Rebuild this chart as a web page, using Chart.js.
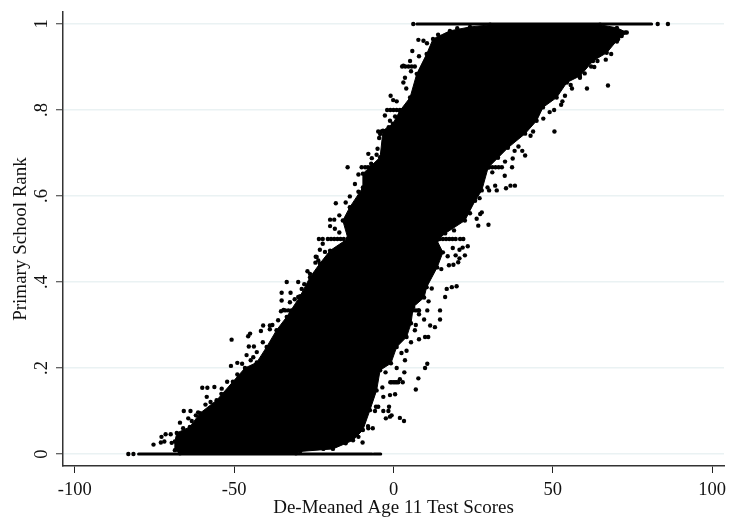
<!DOCTYPE html>
<html>
<head>
<meta charset="utf-8">
<script src="https://cdn.jsdelivr.net/npm/chart.js@4"></script>
<style>
  body { margin: 0; background: #fff; }
  canvas { display: block; }
</style>
</head>
<body>
<canvas id="chart" width="730" height="519"></canvas>
<script>
const xTicks = [-100, -50, 0, 50, 100];
const yTicks = [0, 0.2, 0.4, 0.6, 0.8, 1];
const yTickLabels = ['0', '.2', '.4', '.6', '.8', '1'];

// outline of the solid black cloud, left edge going up then right edge coming down
const cloudX = [-67.0, -68.6, -68.6, -68.0, -63.9, -60.7, -55.5, -50.4, -46.6, -42.9, -39.8, -36.7, -33.5, -29.3, -26.2, -23.1, -19.9, -14.3, -15.9, -13.7, -9.6, -9.6, -4.2, -3.3, -0.2, 2.0, 5.2, 7.3, 10.4, 12.4, 17.7, 24.0, 30.3, 64.8, 70.1, 73.2, 70.5, 66.9, 62.6, 58.5, 54.4, 51.2, 46.9, 44.9, 41.3, 35.9, 32.8, 29.7, 27.7, 25.6, 22.4, 16.2, 13.6, 15.5, 13.7, 10.4, 9.6, 6.2, 5.5, 4.1, 1.0, -0.8, -4.2, -5.3, -7.4, -9.6, -12.7, -19.0, -29.3, -30.6];
const cloudY = [0.002, 0.009, 0.029, 0.049, 0.063, 0.095, 0.125, 0.168, 0.200, 0.213, 0.249, 0.288, 0.319, 0.367, 0.411, 0.443, 0.473, 0.501, 0.543, 0.574, 0.620, 0.652, 0.690, 0.752, 0.768, 0.798, 0.829, 0.884, 0.930, 0.965, 0.984, 0.993, 0.998, 0.998, 0.991, 0.980, 0.965, 0.933, 0.914, 0.879, 0.864, 0.829, 0.806, 0.775, 0.745, 0.712, 0.689, 0.666, 0.613, 0.589, 0.543, 0.513, 0.497, 0.469, 0.434, 0.388, 0.364, 0.342, 0.304, 0.272, 0.249, 0.211, 0.195, 0.148, 0.102, 0.056, 0.032, 0.012, 0.006, 0.002];

// stray pupils outside the cloud
const strayX = [-75.3, -72.8, -73.0, -71.5, -69.9, -71.9, -69.6, -67.0, -65.8, -63.7, -64.4, -63.3, -61.3, -60.0, -58.4, -56.2, -58.6, -57.4, -53.9, -52.2, -51.0, -49.0, -50.8, -45.6, -45.0, -45.4, -43.8, -46.1, -44.8, -42.9, -41.6, -40.9, -38.8, -38.8, -36.2, -35.1, -35.1, -35.3, -32.3, -33.5, -29.9, -32.5, -29.9, -28.8, -26.2, -24.1, -21.0,
  -14.4, -18.1, -19.9, -18.6, -19.9, -18.4, -23.4, -22.2, -22.2, -23.1, -24.4, -23.6, -7.9, -5.3, -12.1, -13.7, -10.0, -8.9, -4.2, -6.8, -4.8, -2.7, -1.1, -0.9, -0.1, 3.1, 3.6, 3.1, 5.9, 5.2, 7.8, 9.4,
  29.8, 26.6, 21.9, 20.9, 23.3, 21.7, 20.7, 18.6, 22.4, 20.7, 19.5, 20.3, 18.8, 17.4, 19.8, 18.3, 16.7, 16.2, 14.6, 10.6, 7.8, 14.6, 9.6, 11.5, 13.0, 6.7, 10.9, 9.9, 8.0, 3.6, 10.6, 9.9, 4.1, 3.4, 7.8, 2.9, 2.0, 0.5, -0.6, 7.0, 0.5, -1.1, -3.2, -1.4, -1.6, -0.6, -1.1, -2.4, 2.0, 3.3, -6.5, -7.9, -9.7, -4.8, -5.8, -3.2,
  67.3, 60.7, 68.3, 66.6, 64.0, 62.0, 58.5, 55.6, 53.8, 52.6, 50.4, 50.5, 43.8, 41.3, 40.4, 39.2, 37.4, 37.2, 34.9, 38.1, 36.7, 35.3, 32.4, 31.9, 30.0, 27.2, 27.7, 26.1, 72.7, 71.6, 70.1];
const strayY = [0.022, 0.040, 0.027, 0.046, 0.046, 0.029, 0.026, 0.073, 0.100, 0.100, 0.083, 0.077, 0.097, 0.154, 0.154, 0.156, 0.133, 0.121, 0.152, 0.168, 0.205, 0.212, 0.266, 0.274, 0.280, 0.250, 0.250, 0.230, 0.218, 0.237, 0.286, 0.299, 0.299, 0.290, 0.311, 0.375, 0.357, 0.332, 0.375, 0.400, 0.400, 0.353, 0.365, 0.384, 0.419, 0.458, 0.454,
  0.667, 0.583, 0.545, 0.545, 0.530, 0.524, 0.500, 0.500, 0.489, 0.475, 0.459, 0.450, 0.698, 0.696, 0.628, 0.599, 0.667, 0.667, 0.744, 0.688, 0.750, 0.787, 0.775, 0.833, 0.823, 0.903, 0.875, 0.864, 0.937, 0.914, 0.963, 0.961,
  0.533, 0.531, 0.500, 0.500, 0.483, 0.480, 0.475, 0.479, 0.462, 0.455, 0.462, 0.446, 0.440, 0.439, 0.390, 0.388, 0.384, 0.365, 0.334, 0.334, 0.334, 0.313, 0.313, 0.299, 0.295, 0.288, 0.272, 0.272, 0.267, 0.218, 0.210, 0.200, 0.240, 0.190, 0.176, 0.167, 0.174, 0.167, 0.167, 0.150, 0.139, 0.137, 0.133, 0.110, 0.100, 0.090, 0.087, 0.083, 0.084, 0.077, 0.060, 0.060, 0.027, 0.110, 0.100, 0.100,
  0.857, 0.850, 0.930, 0.917, 0.914, 0.901, 0.875, 0.858, 0.833, 0.812, 0.800, 0.750, 0.750, 0.694, 0.705, 0.715, 0.687, 0.667, 0.647, 0.624, 0.624, 0.618, 0.613, 0.624, 0.613, 0.558, 0.562, 0.547, 0.980, 0.972, 0.959];

// pupils packed against the edge of the cloud, these make it look rough
const edgeX = [-66, -62, -59, -54, -49, -47.5, -44, -41, -38, -34.5, -31, -28, -27, -24.5, -21.5, -17, -17, -15, -11, -11, -7, -5, -4.5, -1.5, 0.5, 1, 4, 5.5, 8, 10.5, 14, 20,
  63, 60, 56, 53, 49, 47, 43, 38, 35, 31, 29.5, 27, 24, 19, 17, 15, 12, 11, 8, 7, 5.5, 2.5, 1, -2.5, -3.5, -5.5, -8, -11, -15, -22];
const edgeY = [0.06, 0.09, 0.115, 0.14, 0.185, 0.21, 0.225, 0.26, 0.3, 0.335, 0.36, 0.395, 0.425, 0.445, 0.47, 0.515, 0.555, 0.585, 0.61, 0.65, 0.675, 0.71, 0.735, 0.76, 0.785, 0.82, 0.85, 0.89, 0.925, 0.955, 0.975, 0.99,
  0.9, 0.885, 0.85, 0.82, 0.795, 0.78, 0.74, 0.705, 0.68, 0.655, 0.62, 0.595, 0.56, 0.52, 0.46, 0.43, 0.385, 0.355, 0.325, 0.3, 0.26, 0.235, 0.2, 0.19, 0.155, 0.11, 0.065, 0.04, 0.025, 0.012];

// ties at the common rank values make short horizontal streaks
const streakX = [-20.6, -19.6, -18.6, -17.6, -16.6, -15.6, 14.5, 15.5, 16.5, 17.5, 18.5, 19.5, -3.8, -2.8, -1.8, -0.8, 0.2, -2, -1, 0, 1, 2, 3, 2.7, 3.7, 4.7, 5.7, 6.7, -8, -7, -6, -5, -4, -34, -33, -32, -31, -30, -29, 3, 4, 5, 6, 7, 8, -1, 0, 1, 1.5, 30, 31, 32, 33, 34];
const streakY = [0.5, 0.5, 0.5, 0.5, 0.5, 0.5, 0.5, 0.5, 0.5, 0.5, 0.5, 0.5, 0.75, 0.75, 0.75, 0.75, 0.75, 0.8, 0.8, 0.8, 0.8, 0.8, 0.8, 0.901, 0.901, 0.901, 0.901, 0.901, 0.667, 0.667, 0.667, 0.667, 0.667, 0.334, 0.334, 0.334, 0.334, 0.334, 0.334, 0.334, 0.334, 0.334, 0.334, 0.334, 0.334, 0.167, 0.167, 0.167, 0.167, 0.667, 0.667, 0.667, 0.667, 0.667];

// rank 1 and rank 0 pupils, solid run plus the lone end points
const topRunX = [7.3, 81.0];
const topRunY = [1, 1];
const topDotsX = [6.2, 82.9, 86.1];
const topDotsY = [1, 1, 1];
const bottomRunX = [-80.0, -6.7];
const bottomRunY = [0, 0];
const bottomRun2X = [-6.2, -4.0];
const bottomRun2Y = [0, 0];
const bottomDotsX = [-83.2, -81.6];
const bottomDotsY = [0, 0];

function toPoints(xs, ys) {
    return xs.map((x, i) => ({ x: x, y: ys[i] }));
}

const FONT = 'Liberation Serif';
const INK = '#000';
const LABEL = '#111';

function runDataset(xs, ys) {
    return {
        data: toPoints(xs, ys),
        showLine: true,
        borderColor: INK,
        borderWidth: 3,
        borderCapStyle: 'round',
        pointRadius: 0
    };
}

function dotDataset(xs, ys) {
    return {
        data: toPoints(xs, ys),
        showLine: false,
        backgroundColor: INK,
        borderColor: INK,
        borderWidth: 0,
        pointRadius: 2.2
    };
}

new Chart(document.getElementById('chart'), {
    type: 'scatter',
    data: {
        datasets: [
            {
                data: toPoints(cloudX, cloudY),
                showLine: true,
                fill: 'shape',
                backgroundColor: INK,
                borderColor: INK,
                borderWidth: 1,
                pointRadius: 2.2,
                pointBackgroundColor: INK,
                pointBorderWidth: 0,
                tension: 0
            },
            dotDataset(strayX, strayY),
            dotDataset(edgeX, edgeY),
            dotDataset(streakX, streakY),
            runDataset(topRunX, topRunY),
            dotDataset(topDotsX, topDotsY),
            runDataset(bottomRunX, bottomRunY),
            runDataset(bottomRun2X, bottomRun2Y),
            dotDataset(bottomDotsX, bottomDotsY)
        ]
    },
    options: {
        responsive: false,
        animation: false,
        layout: { padding: { top: 12, right: 6, left: 0, bottom: 0 } },
        plugins: { legend: { display: false }, tooltip: { enabled: false } },
        scales: {
            x: {
                type: 'linear',
                min: -103.7,
                max: 103.7,
                afterBuildTicks: axis => { axis.ticks = xTicks.map(v => ({ value: v })); },
                afterFit: axis => {
                    axis.height = 53;
                    axis.paddingLeft = 0;
                    axis.paddingRight = 0;
                },
                grid: { drawOnChartArea: false, tickLength: 7, tickColor: '#222', tickWidth: 1 },
                border: { color: '#333', width: 1.5 },
                ticks: { color: LABEL, padding: 6, font: { family: FONT, size: 18.5 }, maxRotation: 0 },
                title: {
                    display: true,
                    text: 'De-Meaned Age 11 Test Scores',
                    color: LABEL,
                    font: { family: FONT, size: 19 },
                    padding: { top: 0, bottom: 0 }
                }
            },
            y: {
                type: 'linear',
                min: -0.0278,
                max: 1.0278,
                afterBuildTicks: axis => { axis.ticks = yTicks.map(v => ({ value: v })); },
                afterFit: axis => {
                    axis.width = 63;
                    axis.paddingTop = 0;
                    axis.paddingBottom = 0;
                },
                grid: { color: '#eaf2f3', lineWidth: 1.5, tickLength: 7, tickColor: '#333', tickWidth: 1 },
                border: { color: '#333', width: 1.5 },
                ticks: {
                    color: LABEL,
                    padding: 7,
                    minRotation: 90,
                    maxRotation: 90,
                    crossAlign: 'center',
                    font: { family: FONT, size: 18.5 },
                    callback: value => yTickLabels[yTicks.indexOf(value)]
                },
                title: {
                    display: true,
                    text: 'Primary School Rank',
                    color: LABEL,
                    font: { family: FONT, size: 19 },
                    padding: { top: 10, bottom: 0 }
                }
            }
        }
    }
});
</script>
</body>
</html>
